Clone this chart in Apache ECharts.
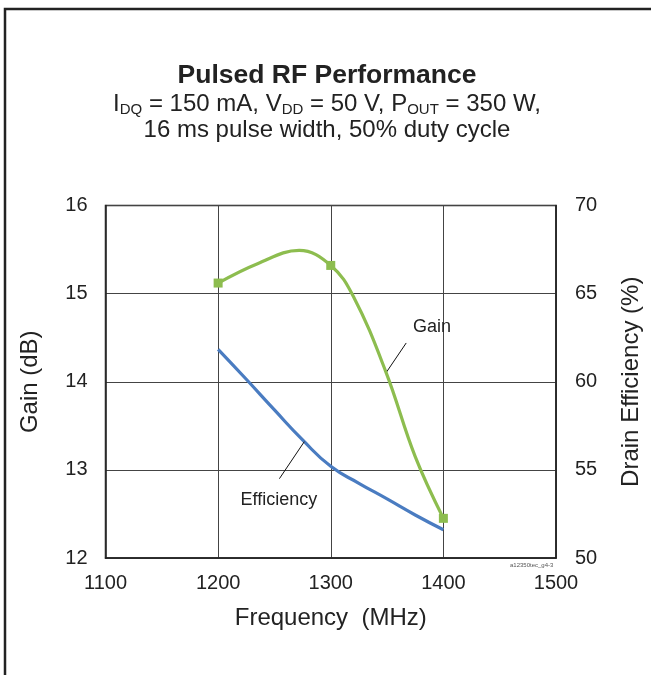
<!DOCTYPE html>
<html><head><meta charset="utf-8">
<script src="https://cdn.jsdelivr.net/npm/echarts@6/dist/echarts.min.js"></script>
<style>html,body{margin:0;padding:0;background:#fff}#c{width:651px;height:675px}</style>
</head><body><div id="c"></div>
<script>
// Data
var xTicks = [1100, 1200, 1300, 1400, 1500];
var gainTicks = [12, 13, 14, 15, 16];
var effTicks = [50, 55, 60, 65, 70];
var gainFreq = [1200, 1235, 1272, 1300, 1320, 1349, 1375, 1400];
var gainVal  = [15.12, 15.34, 15.49, 15.32, 14.97, 14.11, 13.15, 12.45];
var gainMeasured = [true, false, false, true, false, false, false, true];
// Drain efficiency (%) curve
var effFreq = [1200, 1225, 1250, 1275, 1300, 1325, 1350, 1375, 1400];
var effVal  = [61.84, 60.14, 58.4, 56.7, 55.2, 54.24, 53.35, 52.44, 51.6];
// Annotation anchors (data coords)
var gainLabel = {text: 'Gain', at: [1390, 14.62], lead: [[1367, 14.44], [1349, 14.10]]};
var effLabel = {text: 'Efficiency', at: [1254, 53.3], lead: [[1276.5, 56.6], [1254.4, 54.5]]};

var FONT = '"Liberation Sans", Arial, sans-serif';
var GREEN = '#8dbd4f', BLUE = '#4a7cc1';

var chart = echarts.init(document.getElementById('c'), null, {renderer: 'canvas'});

var gainData = gainFreq.map(function (f, i) {
  return {value: [f, gainVal[i]], symbol: gainMeasured[i] ? 'rect' : 'none'};
});
var effData = effFreq.map(function (f, i) { return [f, effVal[i]]; });

var plain = function (v) { return String(v); };
var axisLabelStyle = {fontFamily: FONT, fontSize: 20, color: '#222', formatter: plain};
var nameStyle = {fontFamily: FONT, fontSize: 24, color: '#222'};

var option = {
  backgroundColor: '#fff',
  animation: false,
  title: [
    {text: 'Pulsed RF Performance', left: 322, top: 57, textAlign: 'center',
     textStyle: {fontFamily: FONT, fontSize: 26.5, fontWeight: 'bold', color: '#222'}},
    {text: '{n|I}{s|DQ}{n| = 150 mA, V}{s|DD}{n| = 50 V, P}{s|OUT}{n| = 350 W,}',
     left: 322, top: 87, textAlign: 'center',
     textStyle: {fontWeight: 'normal', rich: {
       n: {fontFamily: FONT, fontSize: 24, fontWeight: 'normal', color: '#222', lineHeight: 30, verticalAlign: 'top'},
       s: {fontFamily: FONT, fontSize: 15, fontWeight: 'normal', color: '#222', lineHeight: 20, verticalAlign: 'top', padding: [10, 0, 0, 0]}
     }}},
    {text: '16 ms pulse width, 50% duty cycle', left: 322, top: 113, textAlign: 'center',
     textStyle: {fontFamily: FONT, fontSize: 24, fontWeight: 'normal', color: '#222'}}
  ],
  grid: {left: 105.5, right: 93.5, top: 205.5, bottom: 117, show: true,
         borderColor: '#222', borderWidth: 1.5, backgroundColor: 'transparent'},
  xAxis: {
    type: 'value', min: xTicks[0], max: xTicks[xTicks.length - 1], interval: 100,
    name: 'Frequency  (MHz)', nameLocation: 'middle', nameGap: 48, nameTextStyle: nameStyle,
    axisLine: {show: true, lineStyle: {color: '#222', width: 1.5}},
    axisTick: {show: false},
    axisLabel: Object.assign({margin: 15}, axisLabelStyle),
    splitLine: {show: true, lineStyle: {color: '#444', width: 1}}
  },
  yAxis: [
    {type: 'value', min: gainTicks[0], max: gainTicks[gainTicks.length - 1], interval: 1,
     name: 'Gain (dB)', nameLocation: 'middle', nameGap: 63, nameTextStyle: nameStyle,
     axisLine: {show: true, lineStyle: {color: '#222', width: 1.5}},
     axisTick: {show: false},
     axisLabel: Object.assign({margin: 18}, axisLabelStyle),
     splitLine: {show: true, lineStyle: {color: '#444', width: 1}}},
    {type: 'value', min: effTicks[0], max: effTicks[effTicks.length - 1], interval: 5,
     name: 'Drain Efficiency (%)', nameLocation: 'middle', nameGap: 63, nameTextStyle: nameStyle,
     position: 'right',
     axisLine: {show: true, lineStyle: {color: '#222', width: 1.5}},
     axisTick: {show: false},
     axisLabel: Object.assign({margin: 19}, axisLabelStyle),
     splitLine: {show: false}}
  ],
  series: [
    {name: 'Efficiency', type: 'line', yAxisIndex: 1, data: effData, smooth: 0.5,
     showSymbol: false, symbol: 'none', lineStyle: {color: BLUE, width: 3.2}, z: 3},
    {name: 'Gain', type: 'line', yAxisIndex: 0, data: gainData, smooth: 0.4,
     symbolSize: 9, itemStyle: {color: GREEN}, lineStyle: {color: GREEN, width: 3.2}, z: 4},
    {name: 'gainLead', type: 'line', yAxisIndex: 0, data: gainLabel.lead, symbol: 'none', silent: true,
     lineStyle: {color: '#111', width: 1},
     markPoint: {symbol: 'circle', symbolSize: 0, data: [{coord: gainLabel.at, value: gainLabel.text}],
       label: {show: true, formatter: gainLabel.text, fontFamily: FONT, fontSize: 18, color: '#222'}}},
    {name: 'effLead', type: 'line', yAxisIndex: 1, data: effLabel.lead, symbol: 'none', silent: true,
     lineStyle: {color: '#111', width: 1},
     markPoint: {symbol: 'circle', symbolSize: 0, data: [{coord: effLabel.at, value: effLabel.text}],
       label: {show: true, formatter: effLabel.text, fontFamily: FONT, fontSize: 18, color: '#222'}}}
  ],
  graphic: [
    {type: 'rect', shape: {x: 5, y: 9, width: 800, height: 800}, silent: true,
     style: {fill: 'none', stroke: '#222', lineWidth: 2.5}, z: -1},
    {type: 'text', left: 510, top: 562, silent: true,
     style: {text: 'a12350tec_g4-3', fontFamily: FONT, fontSize: 6, fill: '#555'}}
  ]
};
chart.setOption(option);
</script>
</body></html>
